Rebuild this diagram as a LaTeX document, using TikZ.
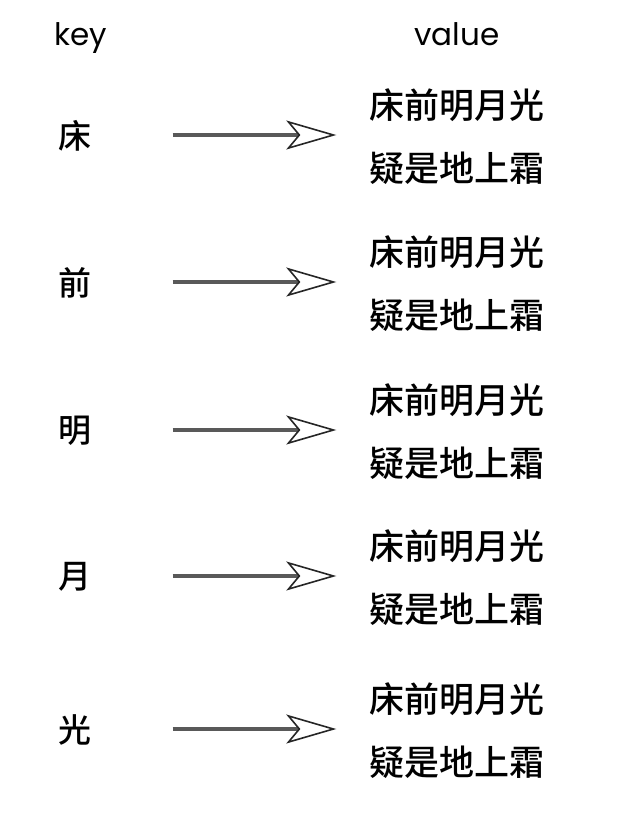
\documentclass[tikz,border=0pt]{standalone}
\usepackage{fontspec}
\setmainfont{Noto Sans CJK SC}[UprightFont=* Medium]
\newfontfamily\headfont{Poppins}
\usetikzlibrary{arrows.meta}
\begin{document}
\begin{tikzpicture}[
    x=1pt, y=-1pt,
    heading/.style={inner sep=0pt, anchor=base, font=\headfont\fontsize{31}{40}\selectfont},
    keychar/.style={inner sep=0pt, font=\fontsize{33}{40}\selectfont},
    valuetext/.style={inner sep=0pt, align=center, font=\fontsize{35}{63}\selectfont},
    maparrow/.style={line width=4pt, draw=black!65,
      -{Stealth[open, length=50pt, width=29pt, inset=12pt, line width=1.6pt, color=black!85]},
      shorten <=81pt, shorten >=33pt}
  ]
  \useasboundingbox (0,0) rectangle (620,816);

  \node[heading] (keyhead) at (81,46) {key};
  \node[heading] (valuehead) at (457,46) {value};

  \node[keychar] (k1) at (75,136) {床};
  \node[keychar] (k2) at (75,283) {前};
  \node[keychar] (k3) at (75,431) {明};
  \node[keychar] (k4) at (75,577) {月};
  \node[keychar] (k5) at (75,730) {光};

  \node[valuetext] (v1) at (457,137) {床前明月光\\疑是地上霜};
  \node[valuetext] (v2) at (457,284) {床前明月光\\疑是地上霜};
  \node[valuetext] (v3) at (457,432) {床前明月光\\疑是地上霜};
  \node[valuetext] (v4) at (457,578) {床前明月光\\疑是地上霜};
  \node[valuetext] (v5) at (457,731) {床前明月光\\疑是地上霜};

  \draw[maparrow] (k1.east |- 0,135) -- (v1.west |- 0,135);
  \draw[maparrow] (k2.east |- 0,282) -- (v2.west |- 0,282);
  \draw[maparrow] (k3.east |- 0,430) -- (v3.west |- 0,430);
  \draw[maparrow] (k4.east |- 0,576) -- (v4.west |- 0,576);
  \draw[maparrow] (k5.east |- 0,729) -- (v5.west |- 0,729);
\end{tikzpicture}
\end{document}
